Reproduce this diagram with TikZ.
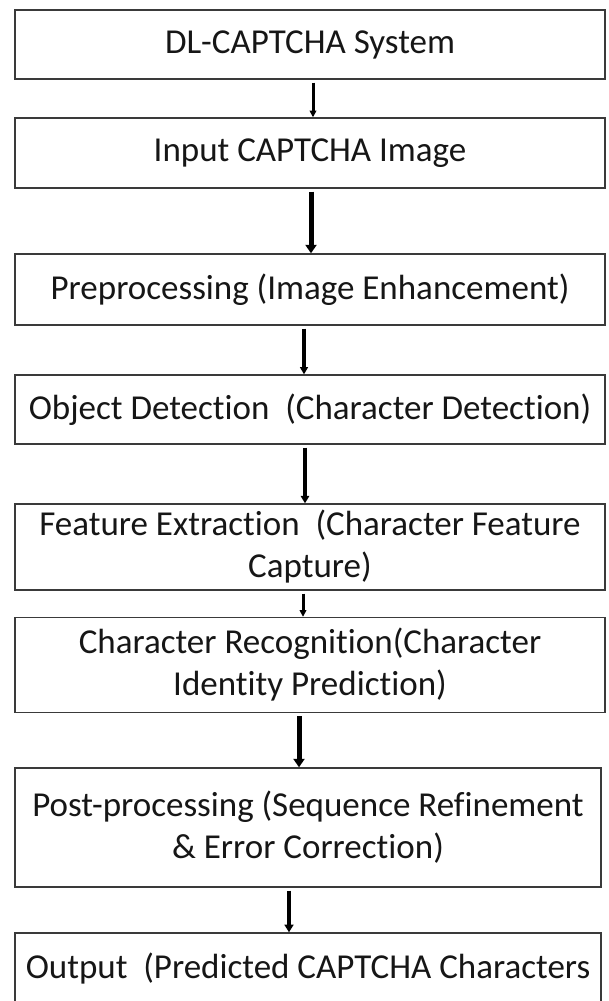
\documentclass[tikz,border=0pt]{standalone}
\usepackage{fontspec}
\setmainfont{Carlito}[Ligatures=NoCommon]
\usetikzlibrary{arrows.meta}
\definecolor{boxgray}{HTML}{3A3A3A}
\definecolor{txt}{HTML}{161616}
\begin{document}
\begin{tikzpicture}[x=1pt,y=-1pt,
  box/.style={draw=boxgray, line width=1.4pt, fill=white, inner sep=0pt,
    align=center, font=\fontsize{35}{42}\selectfont, text=txt},
  conn/.style={draw=black, line width=#1, shorten <=3pt,
    -{Triangle[length=4pt 0.9, width=0pt 2.2]}}]
\useasboundingbox (0,0) rectangle (609,1001);
\clip (0,0) rectangle (609,1001);
\node[box, minimum width=590pt, minimum height=69pt]  (b1) at (310,44.5) {DL-CAPTCHA System};
\node[box, minimum width=590pt, minimum height=70pt]  (b2) at (310,153) {Input CAPTCHA Image};
\node[box, minimum width=590pt, minimum height=71pt]  (b3) at (310,289.5) {Preprocessing (Image Enhancement)};
\node[box, minimum width=590pt, minimum height=69pt]  (b4) at (310,409.5) {Object Detection\ \ (Character Detection)};
\node[box, minimum width=590pt, minimum height=86pt]  (b5) at (310,547) {Feature Extraction\ \ (Character Feature\\Capture)};
\node[box, minimum width=590pt, minimum height=95pt]  (b6) at (310,665) {Character Recognition(Character\\Identity Prediction)};
\node[box, minimum width=586pt, minimum height=119pt] (b7) at (308,827.5) {Post-processing (Sequence Refinement\\\& Error Correction)};
\node[box, minimum width=586pt, minimum height=72pt]  (b8) at (308,969) {Output\ \ (Predicted CAPTCHA Characters};
\coordinate (x1) at (313,0);
\coordinate (x2) at (311,0);
\coordinate (x3) at (304,0);
\coordinate (x4) at (305,0);
\coordinate (x5) at (303,0);
\coordinate (x6) at (299,0);
\coordinate (x7) at (289,0);
\draw[conn=3pt]   (b1.south -| x1) -- (b2.north -| x1);
\draw[conn=5pt]   (b2.south -| x2) -- (b3.north -| x2);
\draw[conn=3.6pt] (b3.south -| x3) -- (b4.north -| x3);
\draw[conn=3.8pt] (b4.south -| x4) -- (b5.north -| x4);
\draw[conn=3pt]   (b5.south -| x5) -- (b6.north -| x5);
\draw[conn=5pt]   (b6.south -| x6) -- (b7.north -| x6);
\draw[conn=4pt]   (b7.south -| x7) -- (b8.north -| x7);
\end{tikzpicture}
\end{document}
